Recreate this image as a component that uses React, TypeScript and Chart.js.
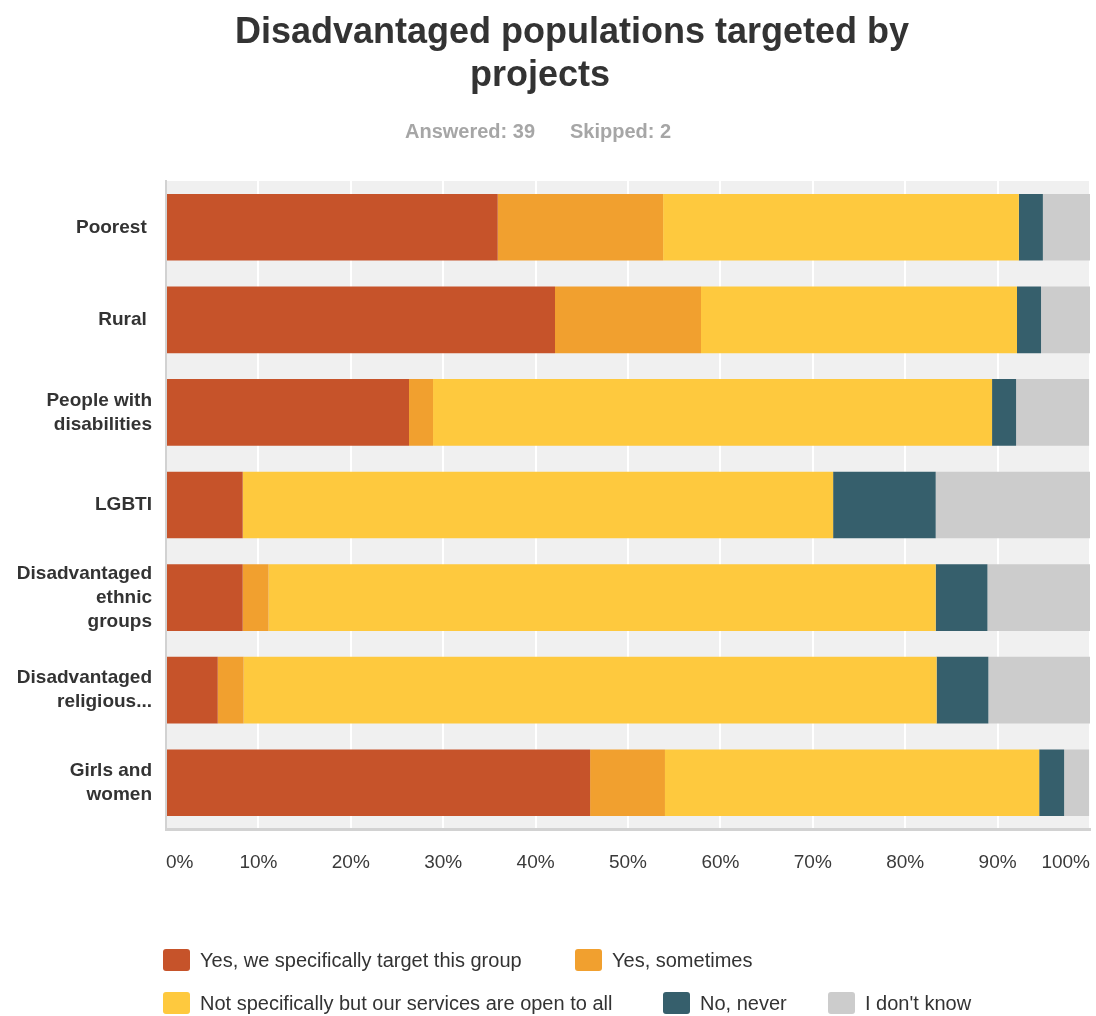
import React, { useEffect, useRef } from "react";
import { Chart, registerables } from "chart.js";

Chart.register(...registerables);

const titleLines = ["Disadvantaged populations targeted by", "projects"];
const answeredText = "Answered: 39";
const skippedText = "Skipped: 2";

const categoryLabels: string[][] = [
  ["Poorest "],
  ["Rural "],
  ["People with", "disabilities"],
  ["LGBTI"],
  ["Disadvantaged", "ethnic", "groups"],
  ["Disadvantaged", "religious..."],
  ["Girls and", "women"],
];

const seriesNames = [
  "Yes, we specifically target this group",
  "Yes, sometimes",
  "Not specifically but our services are open to all",
  "No, never",
  "I don't know",
];

const yesTarget = [35.9, 42.1, 26.3, 8.3, 8.3, 5.6, 45.9];
const yesSometimes = [17.9, 15.8, 2.6, 0, 2.8, 2.8, 8.1];
const openToAll = [38.5, 34.2, 60.5, 63.9, 72.2, 75.0, 40.5];
const noNever = [2.6, 2.6, 2.6, 11.1, 5.6, 5.6, 2.7];
const dontKnow = [5.1, 5.3, 7.9, 16.7, 11.1, 11.1, 2.7];

const seriesColors = ["#C6532A", "#F1A02F", "#FEC93E", "#365F6C", "#CCCCCC"];

const xTickValues = [0, 10, 20, 30, 40, 50, 60, 70, 80, 90, 100];

const FONT = "'Liberation Sans', Arial, Helvetica, sans-serif";

export default function App() {
  const canvasRef = useRef<HTMLCanvasElement | null>(null);

  useEffect(() => {
    const canvas = canvasRef.current;
    if (!canvas) return;

    const decorPlugin = {
      id: "decor",
      beforeDraw(chart: any) {
        const { ctx, chartArea } = chart;
        ctx.save();
        ctx.fillStyle = "#ffffff";
        ctx.fillRect(0, 0, chart.width, chart.height);
        ctx.fillStyle = "#f0f0f0";
        ctx.fillRect(chartArea.left, chartArea.top, chartArea.right - chartArea.left, chartArea.bottom - chartArea.top);
        ctx.restore();
      },
      afterDraw(chart: any) {
        const { ctx } = chart;
        ctx.save();
        // Title
        ctx.fillStyle = "#333333";
        ctx.font = `bold 36px ${FONT}`;
        ctx.textAlign = "center";
        ctx.textBaseline = "alphabetic";
        ctx.fillText(titleLines[0], 572, 43);
        ctx.fillText(titleLines[1], 540, 86);
        // Subtitle
        ctx.fillStyle = "#a6a6a6";
        ctx.font = `bold 20px ${FONT}`;
        ctx.textAlign = "left";
        ctx.fillText(answeredText, 405, 138);
        ctx.fillText(skippedText, 570, 138);
        // Legend
        const legendPos = [
          [163, 960],
          [575, 960],
          [163, 1003],
          [663, 1003],
          [828, 1003],
        ];
        ctx.font = `20px ${FONT}`;
        ctx.textBaseline = "middle";
        chart.data.datasets.forEach((ds: any, i: number) => {
          const [x, y] = legendPos[i];
          ctx.fillStyle = ds.backgroundColor;
          ctx.beginPath();
          (ctx as any).roundRect(x, y - 11, 27, 22, 3);
          ctx.fill();
          ctx.fillStyle = "#333333";
          ctx.fillText(ds.label, x + 37, y + 1);
        });
        ctx.restore();
      },
    };

    const chart = new Chart(canvas, {
      type: "bar",
      data: {
        labels: categoryLabels as any,
        datasets: [
          { label: seriesNames[0], data: yesTarget, backgroundColor: seriesColors[0] },
          { label: seriesNames[1], data: yesSometimes, backgroundColor: seriesColors[1] },
          { label: seriesNames[2], data: openToAll, backgroundColor: seriesColors[2] },
          { label: seriesNames[3], data: noNever, backgroundColor: seriesColors[3] },
          { label: seriesNames[4], data: dontKnow, backgroundColor: seriesColors[4] },
        ].map((d) => ({ ...d, borderWidth: 0, barPercentage: 0.72, categoryPercentage: 1 })),
      },
      options: {
        indexAxis: "y",
        responsive: false,
        animation: false,
        devicePixelRatio: 1,
        layout: { padding: { top: 181, right: 6, bottom: 127, left: 0 } },
        plugins: {
          legend: { display: false },
          title: { display: false },
          tooltip: { enabled: false },
        },
        scales: {
          x: {
            stacked: true,
            min: 0,
            max: 100,
            afterBuildTicks: (scale: any) => {
              scale.ticks = xTickValues.map((v) => ({ value: v }));
            },
            afterFit: (scale: any) => {
              scale.height = 60;
              scale.paddingLeft = 0;
              scale.paddingRight = 0;
            },
            grid: { color: "#ffffff", lineWidth: 2, drawTicks: false },
            border: { display: true, color: "#d2d2d2", width: 3 },
            ticks: {
              align: "inner",
              padding: 22,
              color: "#3a3a3a",
              font: { family: FONT, size: 19 },
              callback: (v: any) => `${v}%`,
            },
          },
          y: {
            stacked: true,
            afterFit: (scale: any) => {
              scale.width = 166;
              scale.paddingTop = 0;
              scale.paddingBottom = 0;
            },
            grid: { display: false, drawTicks: false },
            border: { display: true, color: "#d2d2d2", width: 2 },
            ticks: {
              padding: 14,
              color: "#333333",
              font: { family: FONT, size: 19, weight: "bold", lineHeight: 1.26 },
            },
          },
        },
      } as any,
      plugins: [decorPlugin],
    });

    return () => {
      chart.destroy();
    };
  }, []);

  return (
    <div style={{ position: "fixed", left: 0, top: 0, width: 1096, height: 1016, background: "#fff" }}>
      <canvas ref={canvasRef} width={1096} height={1016} style={{ display: "block", width: 1096, height: 1016 }} />
    </div>
  );
}
